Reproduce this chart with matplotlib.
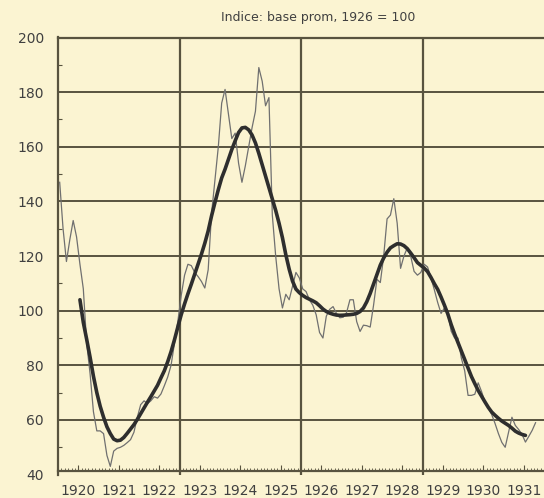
import matplotlib.pyplot as plt
import numpy as np

# monthly index (1926 = 100), Jan 1920 onwards
monthly = [147, 130, 118, 126, 133, 127, 117, 108, 88, 77, 63, 56,
           56, 55, 47, 43, 48.6, 49.6, 50, 50.7, 51.7, 52.8, 55.5, 61,
           65.6, 67, 66, 67, 68.5, 68, 69.5, 72.5, 75.7, 80, 88, 96,
           105.5, 113, 117, 116.5, 114, 112.5, 110.7, 108.3, 115, 135.6, 147.7, 160,
           176, 181, 172, 163, 165, 154, 147, 153, 160, 167, 173, 189,
           184, 175, 178, 135, 120, 108, 101, 106, 104, 109, 114, 112,
           108, 107, 104, 102, 98.5, 92, 90, 98, 100.5, 101.5, 99, 97.4,
           97.6, 99.3, 104, 104, 96, 92.4, 94.7, 94.5, 94, 102, 111.5, 110.3,
           120, 133.6, 135, 141, 132, 115.5, 120, 123, 120, 114.4, 113, 114,
           117, 116, 112, 107.7, 103, 99, 101, 99, 92.5, 90, 90, 82.7,
           78, 69, 69, 69.4, 73.6, 70.4, 66.6, 64.5, 62, 58.7, 55, 51.8,
           50, 55.5, 61, 58, 56.5, 54.7, 51.9, 54, 56.2, 59]

# smoothed trend, starts Jul 1920
trend_start = 6
trend = [104, 95.7, 89.5, 83, 76, 70,
         65, 61, 57.5, 55, 53, 52.4, 52.6, 53.6, 55.1, 56.7, 58.3, 60.2,
         62.3, 64.4, 66.5, 68.5, 70.6, 72.7, 75.4, 78, 81.3, 85, 89.3, 94,
         98.5, 102.5, 106.2, 109.7, 113.4, 117, 120.7, 124.7, 129.2, 134.7, 139.6, 144.3,
         148.6, 151.8, 155.4, 159, 162.2, 165.2, 166.9, 167.1, 166.2, 164.3, 161.4, 157.6,
         153.4, 149.2, 145, 140.9, 136.7, 132, 126.7, 120.5, 115.2, 110.8, 107.9, 106.6,
         105.6, 104.8, 104.2, 103.6, 102.9, 101.8, 100.6, 99.7, 99.1, 98.7, 98.4, 98.3,
         98.35, 98.45, 98.55, 98.7, 99, 99.7, 101, 103.3, 106.3, 109.8, 113.4, 116.7,
         119.3, 121.4, 123, 123.8, 124.5, 124.4, 123.8, 122.7, 121.1, 119.4, 117.6, 116.6,
         115.6, 114.3, 112.2, 109.9, 107.8, 105, 102, 98.8, 94.9, 91.5, 88.4, 85.3,
         82.2, 79, 75.9, 73.3, 70.8, 68.7, 66.6, 64.6, 62.9, 61.7, 60.6, 59.6,
         58.8, 58, 57, 55.9, 55.2, 54.7, 54.35]

years = list(range(1920, 1932))
grid_years = [1923, 1926, 1929]
grid_vals = [60, 80, 100, 120, 140, 160, 180]

bg = '#FBF4D2'
ink = '#58533f'
txt = '#404040'

t = 1920 + (np.arange(len(monthly)) + 0.5) / 12
t_trend = 1920 + (np.arange(len(trend)) + trend_start + 0.5) / 12

fig = plt.figure(figsize=(5.44, 4.98), dpi=100, facecolor=bg)
ax = fig.add_axes([58 / 544, 1 - 474.6 / 498, 486 / 544, 437.1 / 498], facecolor=bg)

for v in grid_vals:
    ax.axhline(v, color=ink, lw=1.4, zorder=1)
for yr in grid_years:
    ax.axvline(yr, color=ink, lw=1.6, zorder=1)

ax.plot(t, monthly, color='#707070', lw=0.9, zorder=3)
ax.plot(t_trend, trend, color='#2e2e2e', lw=2.6, solid_capstyle='round', zorder=4)

ax.set_xlim(1920, 1920 + 486 / 41.1)
ax.set_ylim(40, 200)

ax.set_xticks([y + 0.5 for y in years])
ax.set_xticklabels([str(y) for y in years])
ax.set_xticks(1920 + np.arange(0, 145) / 12, minor=True)
ax.set_yticks(range(40, 201, 20))
ax.set_yticks(range(50, 200, 20), minor=True)

ax.tick_params(axis='x', which='major', direction='in', length=4, width=0.8,
               color=ink, pad=10, labelsize=10, labelcolor=txt)
ax.tick_params(axis='x', which='minor', direction='in', length=2, width=0.6, color=ink)
ax.tick_params(axis='y', which='major', length=0, pad=10, labelsize=10, labelcolor=txt)
ax.tick_params(axis='y', which='minor', direction='in', length=3, width=0.8, color=ink)

ax.spines['right'].set_visible(False)
ax.spines['bottom'].set_position(('data', 41.5))
for s in ['left', 'top', 'bottom']:
    ax.spines[s].set_color(ink)
    ax.spines[s].set_linewidth(1.6)

fig.text(318 / 544, 1 - 17 / 498, 'Indice: base prom, 1926 = 100', ha='center', va='center',
         fontsize=9, color=txt)

fig.savefig('out.png', dpi=100, facecolor=bg)
